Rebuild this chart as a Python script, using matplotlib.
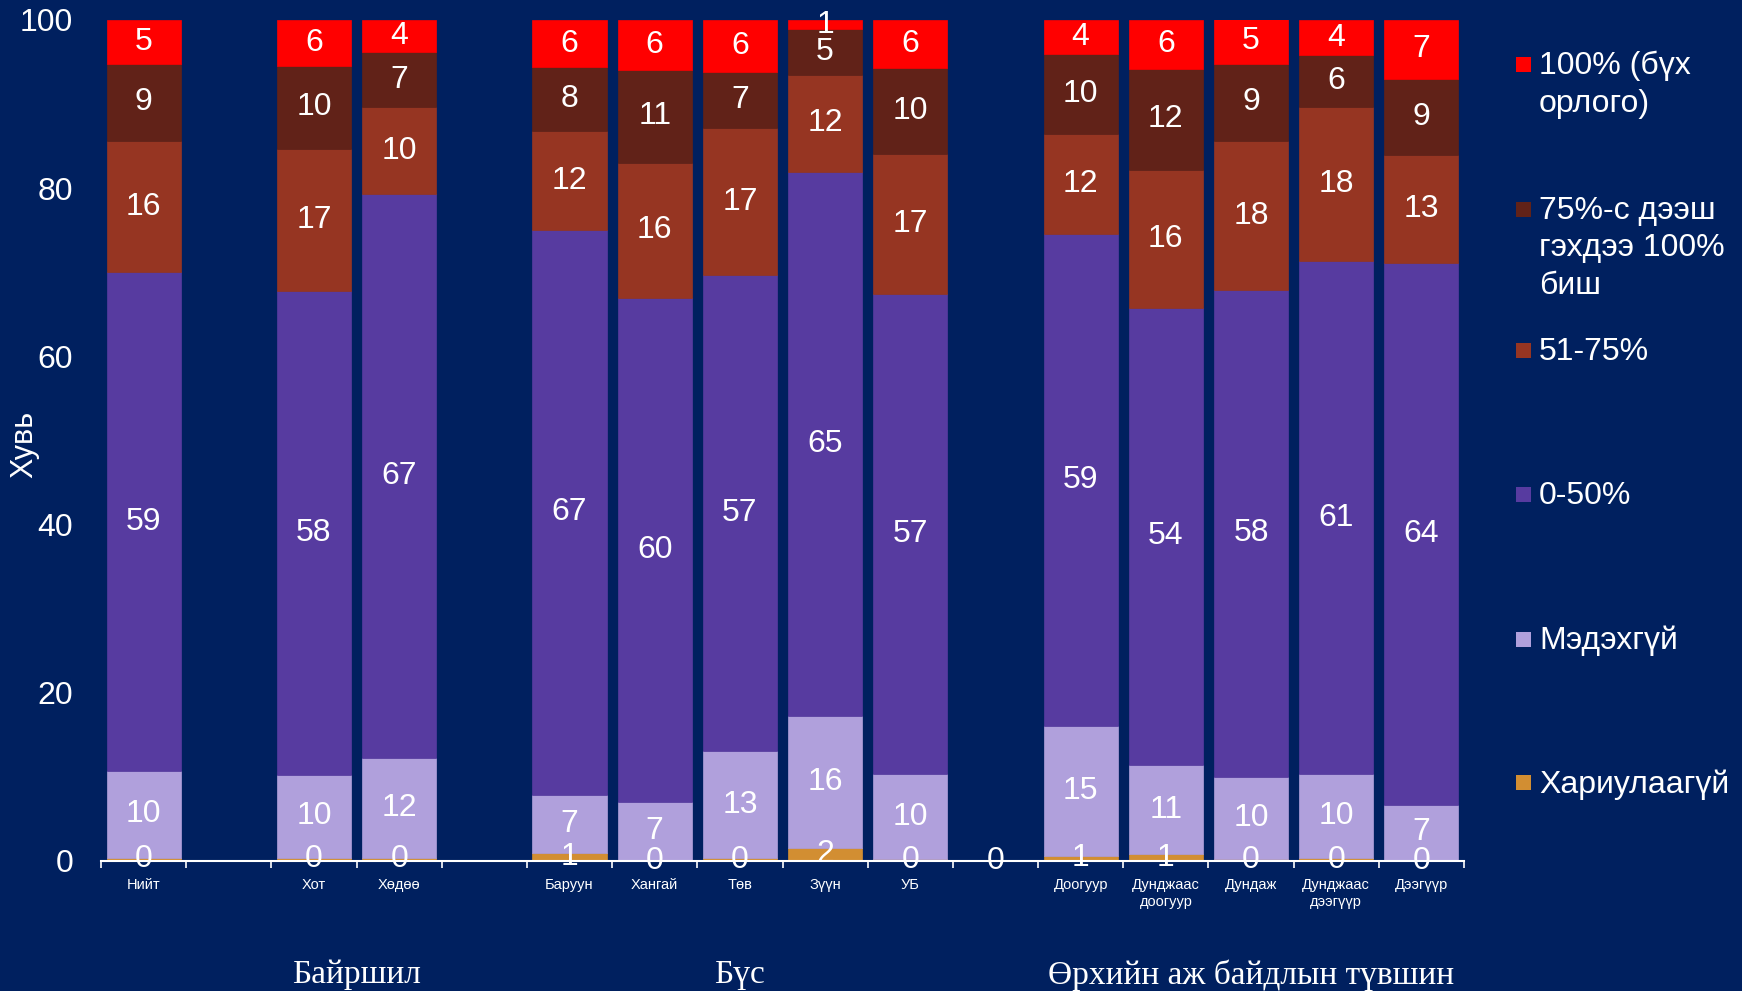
import numpy as np
import matplotlib
matplotlib.use("Agg")
import matplotlib.pyplot as plt
import matplotlib.transforms as mtransforms
from matplotlib.patches import Rectangle

plt.rcParams['font.family'] = ['Liberation Sans', 'DejaVu Sans']

# Ангилал (хоосон нэр = бүлгийн хоорондох зай)
categories = ["Нийт", "", "Хот", "Хөдөө", "", "Баруун", "Хангай", "Төв", "Зүүн", "УБ", "",
              "Доогуур", "Дунджаас\nдоогуур", "Дундаж", "Дунджаас\nдээгүүр", "Дээгүүр"]

series_names = ["Хариулаагүй", "Мэдэхгүй", "0-50%", "51-75%",
                "75%-с дээш\nгэхдээ 100%\nбиш", "100% (бүх\nорлого)"]
colors = ["#D28E32", "#B0A0DC", "#573BA0", "#963522", "#612218", "#FF0000"]

nan = np.nan
hariulaagui = [0.4, nan, 0.4, 0.4, nan, 0.9, 0.1, 0.3, 1.6, 0.2, 0.0, 0.6, 0.8, 0.2, 0.3, 0.1]
medehgui    = [10.3, nan, 9.8, 11.9, nan, 7.0, 6.9, 12.8, 15.6, 10.1, nan, 15.4, 10.6, 9.8, 10.0, 6.6]
p0_50       = [59.3, nan, 57.6, 67.0, nan, 67.1, 60.0, 56.6, 64.7, 57.1, nan, 58.6, 54.4, 57.9, 61.0, 64.4]
p51_75      = [15.6, nan, 16.9, 10.3, nan, 11.8, 16.0, 17.4, 11.6, 16.7, nan, 11.8, 16.4, 17.7, 18.3, 12.9]
p75_100     = [9.2, nan, 9.8, 6.6, nan, 7.6, 11.1, 6.7, 5.4, 10.2, nan, 9.6, 12.0, 9.2, 6.2, 9.0]
p100        = [5.2, nan, 5.5, 3.8, nan, 5.6, 5.9, 6.2, 1.1, 5.7, nan, 4.0, 5.8, 5.4, 4.2, 7.0]

series = [hariulaagui, medehgui, p0_50, p51_75, p75_100, p100]

groups = ["Байршил", "Бүс", "Өрхийн аж байдлын түвшин"]
group_pos = [2.5, 7, 13]

bg = "#00205F"
fig = plt.figure(figsize=(17.42, 9.91), dpi=100)
fig.patch.set_facecolor(bg)
ax = fig.add_axes([101 / 1742, 1 - 861 / 991, 1363 / 1742, 841 / 991])
ax.set_facecolor(bg)

x = np.arange(len(categories))
bottom = np.zeros(len(categories))
for vals, col in zip(series, colors):
    v = np.array(vals, dtype=float)
    h = np.nan_to_num(v)
    ax.bar(x, h, 0.87, bottom=bottom, color=col, edgecolor=col, linewidth=0.5)
    for xi, val, b in zip(x, v, bottom):
        if not np.isnan(val):
            ax.text(xi, b + val / 2, f"{val:.0f}", ha="center", va="center",
                    color="white", fontsize=23)
    bottom += h

ax.set_xlim(-0.5, len(categories) - 0.5)
ax.set_ylim(0, 100)
ax.set_yticks([0, 20, 40, 60, 80, 100])
ax.tick_params(axis="y", colors="white", labelsize=23, length=0, pad=20)
ax.set_xticks(x)
ax.set_xticklabels(categories, fontsize=10.5, color="white", linespacing=1.3)
ax.set_xticks(np.arange(-0.5, len(categories)), minor=True)
ax.tick_params(axis="x", which="major", length=0, pad=12)
ax.tick_params(axis="x", which="minor", length=5, width=1.2, color="white", direction="out")
for s in ["top", "right", "left"]:
    ax.spines[s].set_visible(False)
ax.spines["bottom"].set_color("white")
ax.spines["bottom"].set_linewidth(1.5)

fig.text(24 / 1742, 1 - 444 / 991, "Хувь", rotation=90, ha="center", va="center",
         color="white", fontsize=22)

trans = mtransforms.blended_transform_factory(ax.transData, fig.transFigure)
for g, gp in zip(groups, group_pos):
    ax.text(gp, 1 - 975 / 991, g, transform=trans, ha="center", va="center",
            color="white", fontsize=24, family="Liberation Serif")

# Легенд
legend_y = [782, 639, 494, 350, 209, 64]
for name, col, yc in zip(series_names, colors, legend_y):
    fig.patches.append(Rectangle((1516 / 1742, 1 - (yc + 7.5) / 991), 15 / 1742, 15 / 991,
                                 transform=fig.transFigure, facecolor=col, edgecolor="none"))
    fig.text(1539 / 1742, 1 - (yc - 13) / 991, name, ha="left", va="top",
             color="white", fontsize=23, linespacing=1.32)

fig.savefig("out.png", dpi=100, facecolor=bg)
